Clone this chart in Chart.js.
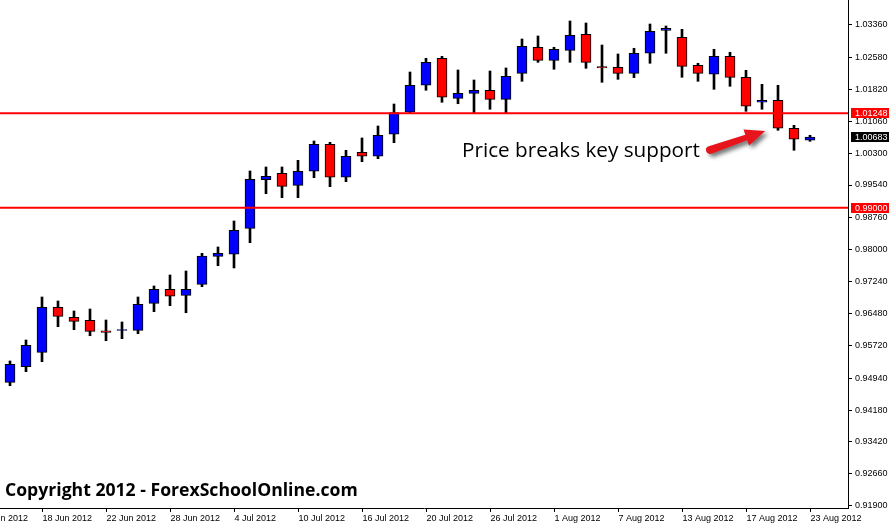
<!DOCTYPE html>
<html><head><meta charset="utf-8">
<script src="https://cdn.jsdelivr.net/npm/chart.js@4.4.1/dist/chart.umd.min.js"></script>
<style>html,body{margin:0;padding:0;background:#fff;overflow:hidden}</style>
</head><body>
<canvas id="c" width="890" height="526" style="display:block;width:890px;height:526px"></canvas>
<script>
// ---- data (daily candles, 14 Jun – 23 Aug 2012) ----
const dates = ['14 Jun 2012','15 Jun 2012','18 Jun 2012','19 Jun 2012','20 Jun 2012','21 Jun 2012','22 Jun 2012','25 Jun 2012','26 Jun 2012','27 Jun 2012','28 Jun 2012','29 Jun 2012','2 Jul 2012','3 Jul 2012','4 Jul 2012','5 Jul 2012','6 Jul 2012','9 Jul 2012','10 Jul 2012','11 Jul 2012','12 Jul 2012','13 Jul 2012','16 Jul 2012','17 Jul 2012','18 Jul 2012','19 Jul 2012','20 Jul 2012','23 Jul 2012','24 Jul 2012','25 Jul 2012','26 Jul 2012','27 Jul 2012','30 Jul 2012','31 Jul 2012','1 Aug 2012','2 Aug 2012','3 Aug 2012','6 Aug 2012','7 Aug 2012','8 Aug 2012','9 Aug 2012','10 Aug 2012','13 Aug 2012','14 Aug 2012','15 Aug 2012','16 Aug 2012','17 Aug 2012','20 Aug 2012','21 Aug 2012','22 Aug 2012','23 Aug 2012'];
const opens  = [0.94841,0.95213,0.95556,0.96628,0.96390,0.96318,0.96068,0.96078,0.96080,0.96723,0.97056,0.96913,0.97175,0.97842,0.97890,0.98509,0.99666,0.99819,0.99533,0.99867,1.00510,0.99724,1.00319,1.00224,1.00748,1.01272,1.01915,1.02558,1.01605,1.01724,1.01796,1.01581,1.02200,1.02820,1.02510,1.02748,1.03129,1.02360,1.02343,1.02200,1.02677,1.03224,1.03058,1.02391,1.02177,1.02605,1.02105,1.01510,1.01557,1.00891,1.00605];
const highs  = [0.95349,0.95849,0.96873,0.96778,0.96540,0.96587,0.96325,0.96278,0.96873,0.97135,0.97397,0.97492,0.97914,0.98064,0.98683,0.99874,0.99969,0.99969,1.00128,1.00588,1.00557,1.00367,1.00660,1.00945,1.01469,1.02231,1.02558,1.02605,1.02279,1.02041,1.02255,1.02327,1.03017,1.03089,1.02820,1.03446,1.03398,1.02874,1.02660,1.02796,1.03374,1.03327,1.03248,1.02439,1.02772,1.02701,1.02272,1.01938,1.01915,1.00962,1.00724];
const lows   = [0.94760,0.95094,0.95332,0.96166,0.96094,0.95951,0.95832,0.95880,0.95999,0.96523,0.96666,0.96499,0.97118,0.97618,0.97564,0.98166,0.99333,0.99238,0.99238,0.99714,0.99500,0.99619,1.00095,1.00167,1.00548,1.01240,1.01796,1.01510,1.01476,1.01240,1.01343,1.01240,1.02010,1.02462,1.02296,1.02462,1.02319,1.01986,1.02057,1.02096,1.02439,1.02677,1.02105,1.02010,1.01819,1.01891,1.01295,1.01343,1.00843,1.00367,1.00581];
const closes = [0.95270,0.95723,0.96628,0.96413,0.96294,0.96056,0.96032,0.96096,0.96699,0.97056,0.96890,0.97056,0.97849,0.97914,0.98461,0.99676,0.99747,0.99509,0.99867,1.00510,0.99724,1.00224,1.00224,1.00724,1.01267,1.01915,1.02462,1.01629,1.01724,1.01796,1.01581,1.02129,1.02843,1.02510,1.02772,1.03105,1.02462,1.02328,1.02200,1.02677,1.03201,1.03272,1.02367,1.02200,1.02605,1.02105,1.01415,1.01557,1.00891,1.00629,1.00683];

const yTicks = [0.91900,0.92660,0.93420,0.94180,0.94940,0.95720,0.96480,0.97240,0.98000,0.98760,0.99540,1.00300,1.01060,1.01820,1.02580,1.03360];
const xTickPos = [-2,2,6,10,14,18,22,26,30,34,38,42,46,50];
const xTickLabels = ['12 Jun 2012','18 Jun 2012','22 Jun 2012','28 Jun 2012','4 Jul 2012','10 Jul 2012','16 Jul 2012','20 Jul 2012','26 Jul 2012','1 Aug 2012','7 Aug 2012','13 Aug 2012','17 Aug 2012','23 Aug 2012'];
const levels = [1.01248, 0.99000];
const lastPrice = 1.00683;
const yMin = 0.91848, yMax = 1.03946;
const xMin = -0.625, xMax = 52.375;

// annotation anchors in data units (bar index, price)
const noteText = 'Price breaks key support';
const noteAt = {x: 28.25, y: 1.00207};
const arrowFrom = {x: 43.75, y: 1.00374};
const arrowTo = {x: 47.2, y: 1.00826};
const copyright = 'Copyright 2012 - ForexSchoolOnline.com';

const BLUE = '#0000FF', RED = '#FF0000';

const overlay = {
  id: 'overlay',
  afterDraw(chart) {
    const ctx = chart.ctx, xs = chart.scales.x, ys = chart.scales.y, ca = chart.chartArea;
    ctx.save();
    // bottom axis line + x ticks
    ctx.strokeStyle = '#000'; ctx.lineWidth = 1;
    ctx.beginPath(); ctx.moveTo(ca.left, ca.bottom + 0.5); ctx.lineTo(ca.right + 1, ca.bottom + 0.5); ctx.stroke();
    ctx.font = '9px "Liberation Sans", Arial, sans-serif';
    ctx.fillStyle = '#000'; ctx.textAlign = 'left'; ctx.textBaseline = 'alphabetic';
    xTickPos.forEach((p, k) => {
      const px = Math.round(xs.getPixelForValue(p)) + 0.5;
      ctx.beginPath(); ctx.moveTo(px, ca.bottom); ctx.lineTo(px, ca.bottom + 4); ctx.stroke();
      ctx.fillText(xTickLabels[k], px, ca.bottom + 13);
    });
    // price boxes on the right axis
    const box = (v, bg) => {
      const py = ys.getPixelForValue(v);
      ctx.fillStyle = bg;
      ctx.fillRect(ca.right + 3, Math.round(py) - 5, 38, 10);
      ctx.fillStyle = '#fff';
      ctx.textBaseline = 'middle';
      ctx.fillText(v.toFixed(5), ca.right + 7, Math.round(py) + 0.5);
    };
    levels.forEach(v => box(v, RED));
    box(lastPrice, '#000');
    // annotation text
    ctx.textBaseline = 'alphabetic';
    let fs = 20;
    ctx.font = fs + 'px "Open Sans", sans-serif';
    fs = fs * 238 / ctx.measureText(noteText).width;
    ctx.font = fs.toFixed(2) + 'px "Open Sans", sans-serif';
    ctx.fillStyle = '#000';
    ctx.fillText(noteText, xs.getPixelForValue(noteAt.x), ys.getPixelForValue(noteAt.y));
    // arrow
    const x0 = xs.getPixelForValue(arrowFrom.x), y0 = ys.getPixelForValue(arrowFrom.y);
    const x1 = xs.getPixelForValue(arrowTo.x), y1 = ys.getPixelForValue(arrowTo.y);
    const L = Math.hypot(x1 - x0, y1 - y0), ux = (x1 - x0) / L, uy = (y1 - y0) / L, nx = -uy, ny = ux;
    const bx = x1 - ux * 20, by = y1 - uy * 20;
    ctx.shadowColor = 'rgba(0,0,0,0.55)'; ctx.shadowBlur = 4; ctx.shadowOffsetX = 3; ctx.shadowOffsetY = 3;
    ctx.fillStyle = '#E8141C';
    ctx.beginPath();
    ctx.moveTo(x0 + nx * 4, y0 + ny * 4);
    ctx.lineTo(bx + nx * 3, by + ny * 3);
    ctx.lineTo(bx + nx * 8.5, by + ny * 8.5);
    ctx.lineTo(x1, y1);
    ctx.lineTo(bx - nx * 8.5, by - ny * 8.5);
    ctx.lineTo(bx - nx * 3, by - ny * 3);
    ctx.lineTo(x0 - nx * 4, y0 - ny * 4);
    ctx.arc(x0, y0, 4, Math.atan2(-ny, -nx), Math.atan2(ny, nx), true);
    ctx.closePath(); ctx.fill();
    ctx.shadowColor = 'transparent';
    // copyright
    let cs = 20;
    ctx.font = 'bold ' + cs + 'px "Open Sans", sans-serif';
    cs = cs * 353 / ctx.measureText(copyright).width;
    ctx.font = 'bold ' + cs.toFixed(2) + 'px "Open Sans", sans-serif';
    ctx.fillStyle = '#000';
    ctx.fillText(copyright, ca.left + 5, ca.bottom - 12.5);
    ctx.restore();
  }
};

const idx = dates.map((d, i) => i);
new Chart(document.getElementById('c'), {
  type: 'bar',
  data: {
    datasets: [
      ...levels.map(v => ({
        type: 'line', data: [{x: xMin - 5, y: v}, {x: xMax + 5, y: v}],
        borderColor: RED, borderWidth: 2, pointRadius: 0, order: 0
      })),
      {
        label: 'body', order: 1, grouped: false,
        data: idx.map(i => ({x: i, y: [opens[i], closes[i]]})),
        backgroundColor: idx.map(i => closes[i] >= opens[i] ? BLUE : RED),
        borderColor: '#000', borderWidth: 1, borderSkipped: false, barThickness: 10
      },
      {
        label: 'wick', order: 2, grouped: false,
        data: idx.map(i => ({x: i, y: [lows[i], highs[i]]})),
        backgroundColor: '#000', borderWidth: 0, barThickness: 2
      }
    ]
  },
  options: {
    responsive: false, animation: false, devicePixelRatio: 1,
    layout: {padding: {left: 0, top: 0, right: 0, bottom: 18}},
    plugins: {legend: {display: false}, tooltip: {enabled: false}},
    scales: {
      x: {type: 'linear', min: xMin, max: xMax, offset: false, display: false},
      y: {
        position: 'right', min: yMin, max: yMax,
        afterBuildTicks: s => { s.ticks = yTicks.map(v => ({value: v})); },
        afterFit: s => { s.width = 42; s.paddingTop = 0; s.paddingBottom = 0; },
        grid: {drawOnChartArea: false, drawTicks: true, tickLength: 4, tickColor: '#000'},
        border: {display: true, color: '#000', width: 1},
        ticks: {
          padding: 3, color: '#000', autoSkip: false,
          font: {family: '"Liberation Sans", Arial, sans-serif', size: 9},
          callback: v => Number(v).toFixed(5)
        }
      }
    }
  },
  plugins: [overlay]
});
</script>
</body></html>
